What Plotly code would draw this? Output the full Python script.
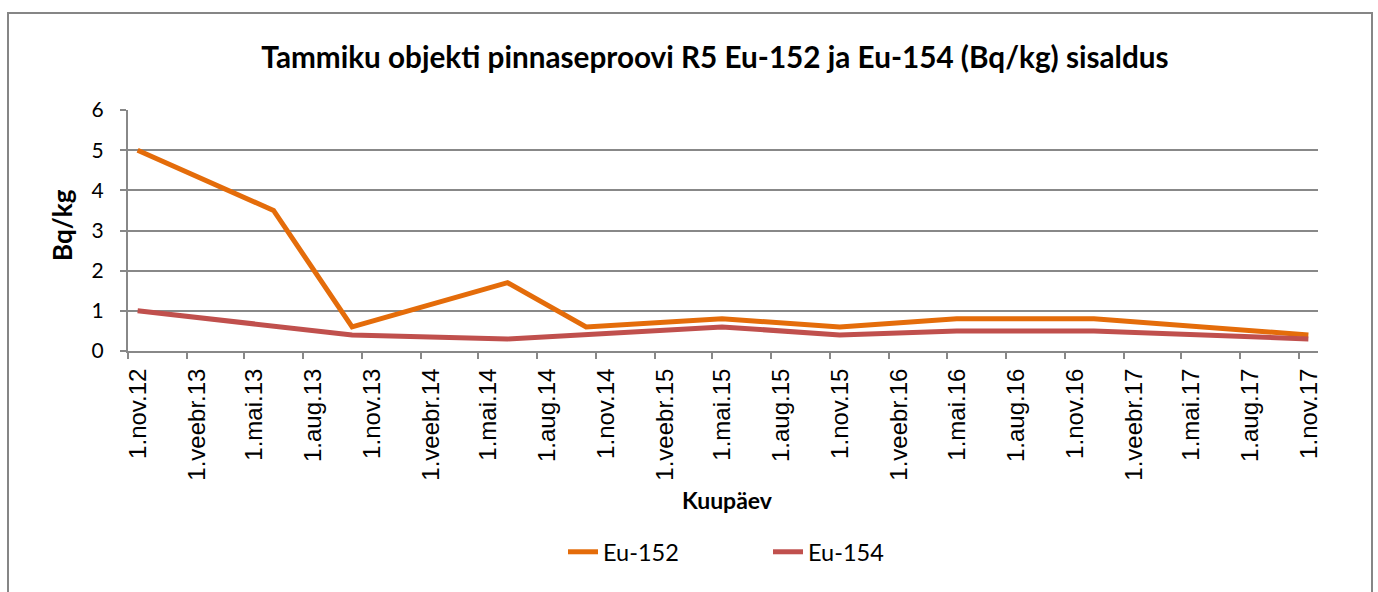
import plotly.graph_objects as go

# Data
dates = ["2012-11-01", "2013-06-01", "2013-10-01", "2014-06-01", "2014-10-01",
         "2015-05-01", "2015-11-01", "2016-05-01", "2016-12-01", "2017-11-01"]
eu152 = [5.0, 3.5, 0.6, 1.7, 0.6, 0.8, 0.6, 0.8, 0.8, 0.4]
eu154 = [1.0, 0.6, 0.4, 0.3, 0.4, 0.6, 0.4, 0.5, 0.5, 0.3]

tick_dates = ["2012-11-01", "2013-02-01", "2013-05-01", "2013-08-01", "2013-11-01",
              "2014-02-01", "2014-05-01", "2014-08-01", "2014-11-01", "2015-02-01",
              "2015-05-01", "2015-08-01", "2015-11-01", "2016-02-01", "2016-05-01",
              "2016-08-01", "2016-11-01", "2017-02-01", "2017-05-01", "2017-08-01",
              "2017-11-01"]
tick_labels = ["1.nov.12", "1.veebr.13", "1.mai.13", "1.aug.13", "1.nov.13",
               "1.veebr.14", "1.mai.14", "1.aug.14", "1.nov.14", "1.veebr.15",
               "1.mai.15", "1.aug.15", "1.nov.15", "1.veebr.16", "1.mai.16",
               "1.aug.16", "1.nov.16", "1.veebr.17", "1.mai.17", "1.aug.17",
               "1.nov.17"]

title_text = "Tammiku objekti pinnaseproovi R5 Eu-152 ja Eu-154 (Bq/kg) sisaldus"

W, H = 1378, 592
L, R, T, B = 128, 1318, 110, 351

def px_x(p):
    return (p - L) / (R - L)

def px_y(p):
    return (B - p) / (B - T)

fig = go.Figure()
fig.add_trace(go.Scatter(x=dates, y=eu152, name="Eu-152", mode="lines",
                         xperiod="M1", xperiodalignment="middle",
                         line=dict(color="#E46C0A", width=5)))
fig.add_trace(go.Scatter(x=dates, y=eu154, name="Eu-154", mode="lines",
                         xperiod="M1", xperiodalignment="middle",
                         line=dict(color="#C0504D", width=5)))

grid = "#888888"
fig.update_layout(
    width=W, height=H,
    margin=dict(l=L, r=W - R, t=T, b=H - B, autoexpand=False),
    paper_bgcolor="white", plot_bgcolor="white",
    font=dict(family="Lato", color="black"),
    title=dict(text="<b>" + title_text + "</b>", x=715 / W, xanchor="center",
               xref="container", y=1 - 58 / H, yanchor="middle", yref="container",
               font=dict(family="Lato", size=29.7, color="black")),
    showlegend=True,
    legend=dict(orientation="h", x=px_x(768), xanchor="center", y=px_y(552), yanchor="middle",
                font=dict(family="Lato", size=23.5, color="black"), bgcolor="rgba(0,0,0,0)",
                entrywidth=160),
    xaxis=dict(type="date", range=["2012-11-01", "2017-12-01"],
               tickmode="array", tickvals=tick_dates, ticktext=tick_labels,
               tickangle=-90, ticklabelshift=10,
               tickfont=dict(family="Liberation Sans", size=24, color="black"),
               ticks="outside", ticklen=6, tickwidth=2, tickcolor=grid,
               showline=True, linecolor=grid, linewidth=2,
               showgrid=False, zeroline=False, fixedrange=True),
    yaxis=dict(range=[0, 6], dtick=1, tick0=0,
               tickfont=dict(family="Lato", size=21, color="black"),
               ticks="outside", ticklen=6, tickwidth=2, tickcolor=grid,
               ticklabelstandoff=12,
               showline=True, linecolor=grid, linewidth=2,
               showgrid=True, gridcolor=grid, gridwidth=1.5,
               zeroline=False, fixedrange=True),
    annotations=[
        dict(text="<b>Bq/kg</b>", x=px_x(62), y=px_y(225), xref="paper", yref="paper",
             textangle=-90, showarrow=False, xanchor="center", yanchor="middle",
             font=dict(family="Lato", size=26, color="black")),
        dict(text="<b>Kuupäev</b>", x=px_x(727), y=px_y(500), xref="paper", yref="paper",
             showarrow=False, xanchor="center", yanchor="middle",
             font=dict(family="Lato", size=23, color="black")),
    ],
    shapes=[
        dict(type="rect", xref="paper", yref="paper",
             x0=px_x(8), x1=px_x(1372), y0=px_y(610), y1=px_y(13),
             line=dict(color="#868686", width=2), fillcolor="rgba(0,0,0,0)", layer="below"),
    ],
)

fig.write_html("out.html", config={"displayModeBar": False},
               post_script="document.body.style.margin='0';document.body.style.overflow='hidden';")
